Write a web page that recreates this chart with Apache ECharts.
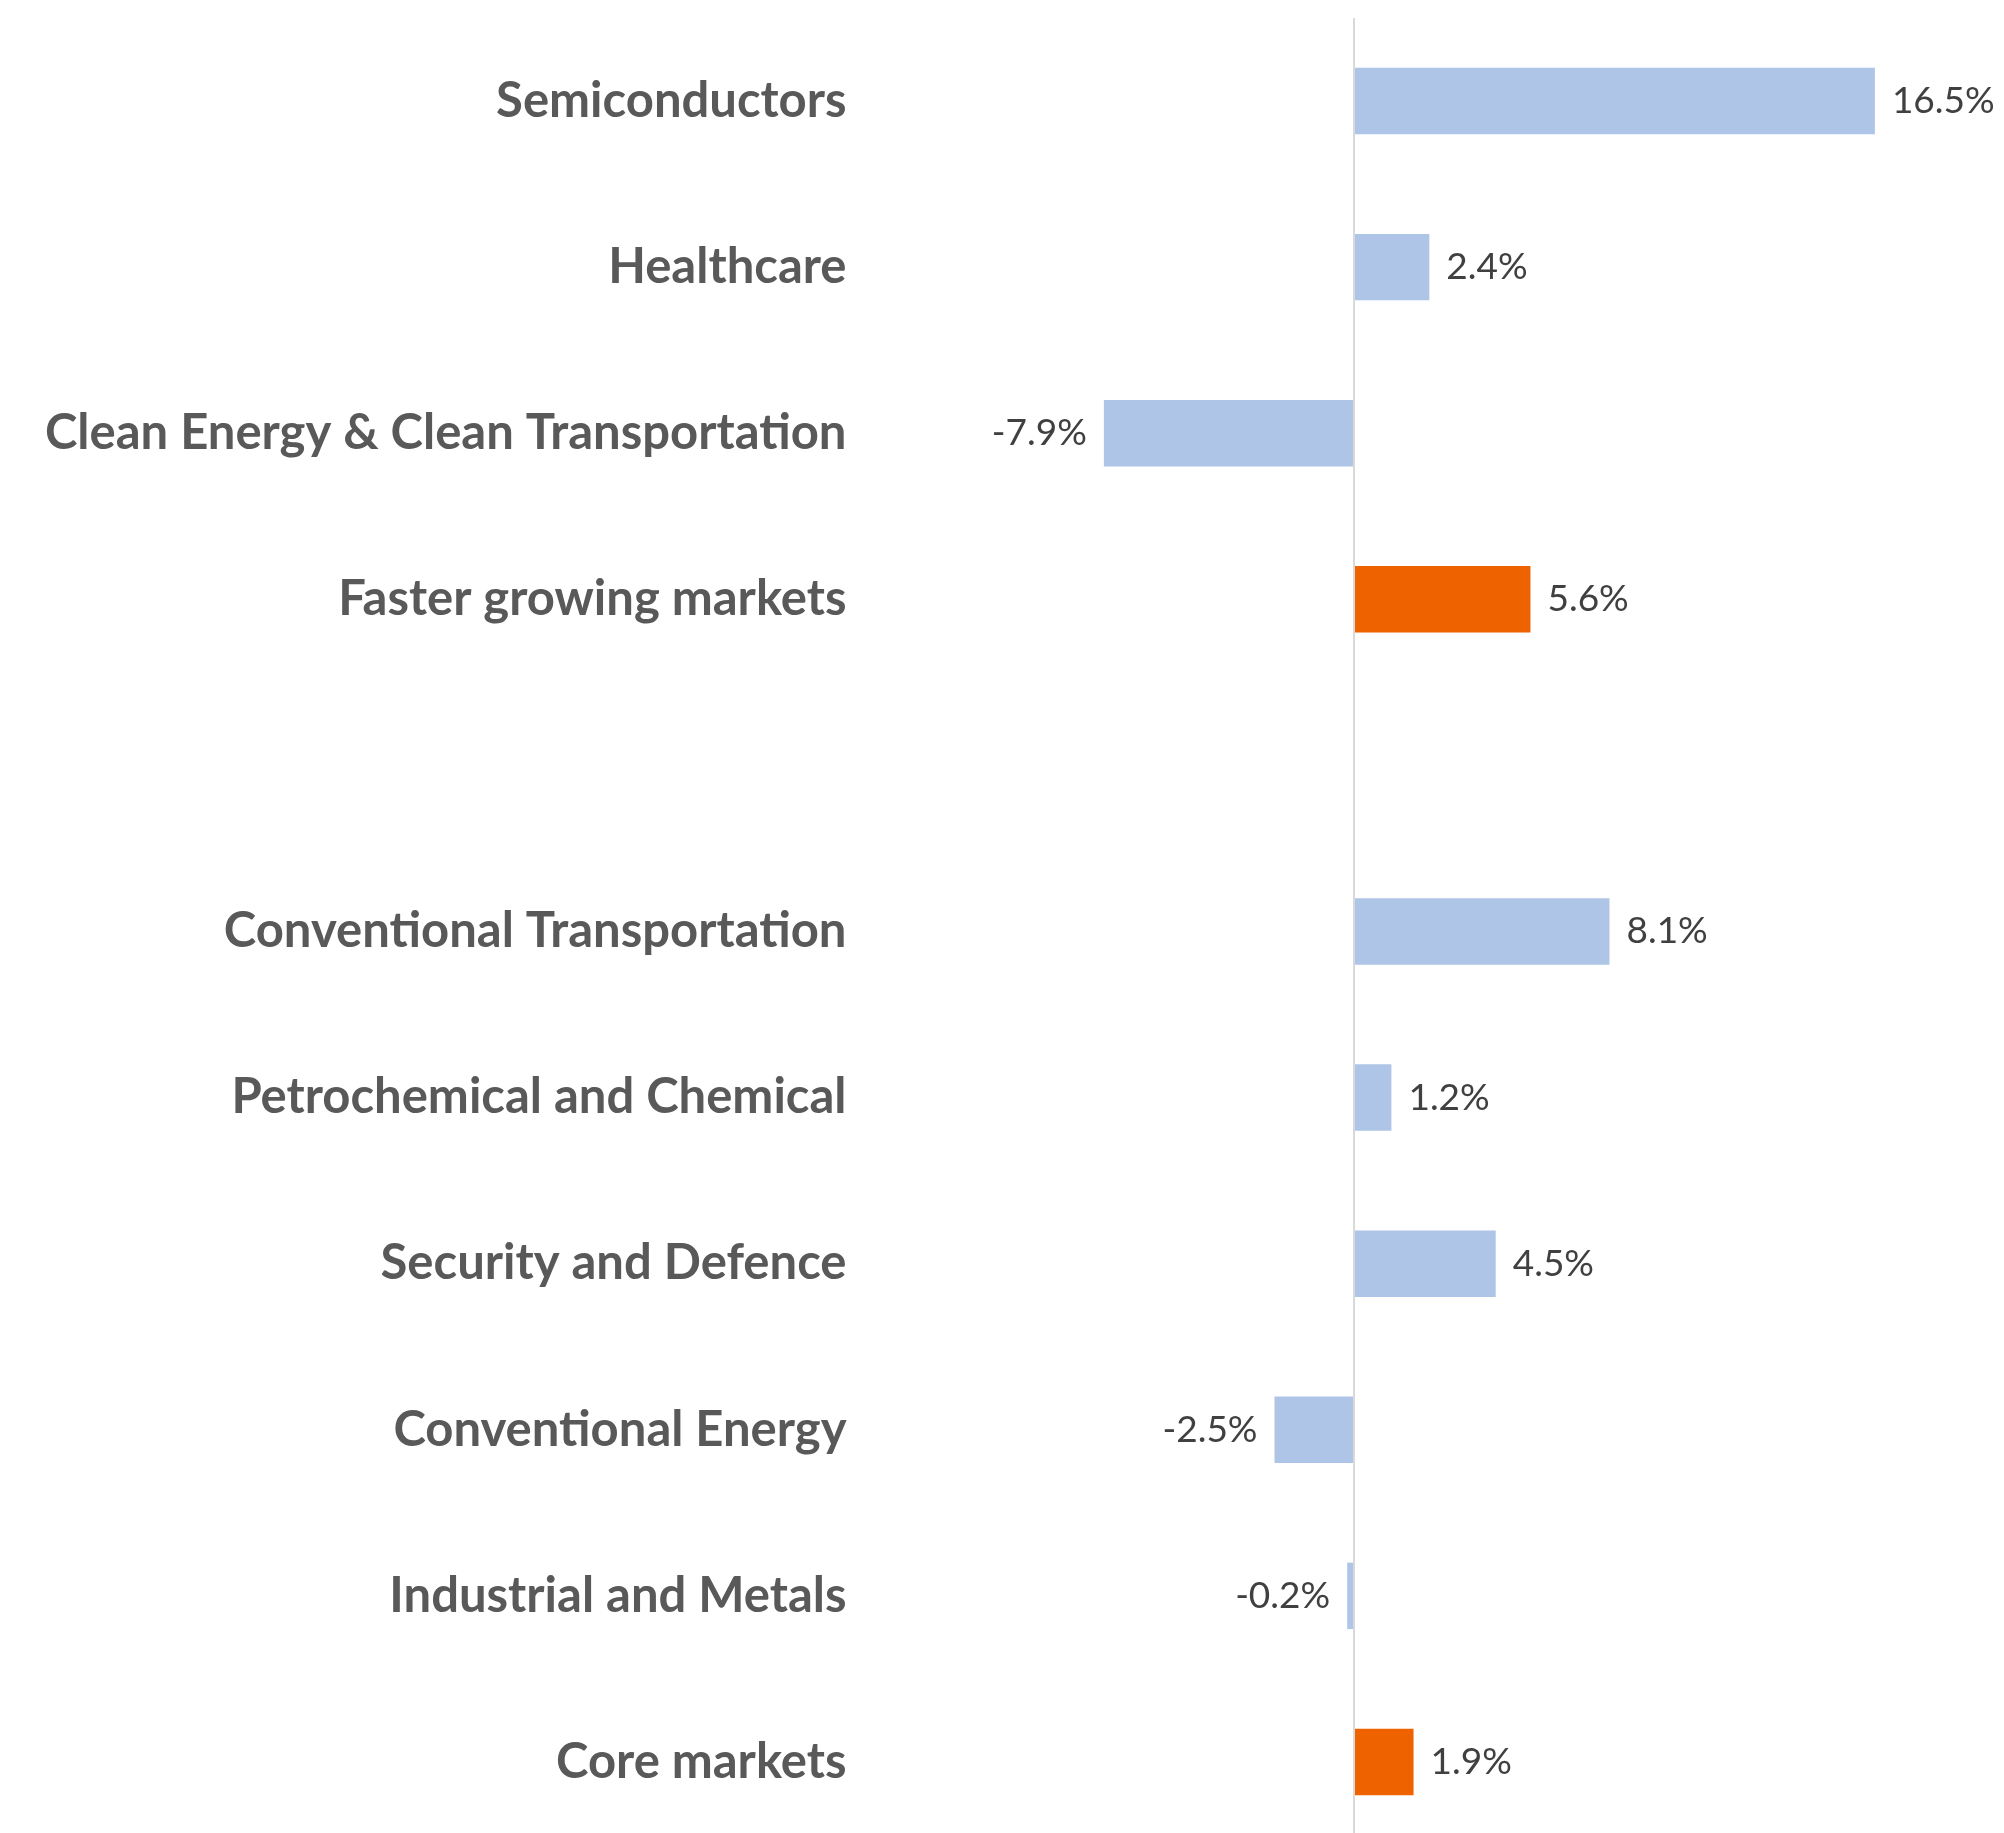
<!DOCTYPE html>
<html>
<head>
<meta charset="utf-8">
<script src="https://cdn.jsdelivr.net/npm/echarts@6/dist/echarts.min.js"></script>
<style>
  html, body { margin: 0; padding: 0; background: #fff; }
  #chart { width: 2004px; height: 1833px; }
</style>
</head>
<body>
<div id="chart"></div>
<script>
// growth by market, top to bottom (blank slot separates the two groups)
const categories = [
    'Semiconductors',
    'Healthcare',
    'Clean Energy & Clean Transportation',
    'Faster growing markets',
    '',
    'Conventional Transportation',
    'Petrochemical and Chemical',
    'Security and Defence',
    'Conventional Energy',
    'Industrial and Metals',
    'Core markets'
];
const growth = [16.5, 2.4, -7.9, 5.6, null, 8.1, 1.2, 4.5, -2.5, -0.2, 1.9];
const totals = ['Faster growing markets', 'Core markets'];

const chart = echarts.init(document.getElementById('chart'));

const barData = growth.map((v, i) => {
    if (v === null) return null;
    return {
        value: v,
        itemStyle: {color: totals.includes(categories[i]) ? '#EE6300' : '#AEC5E7'},
        label: {position: v < 0 ? 'left' : 'right'}
    };
});

chart.setOption({
    animation: false,
    grid: {
        left: 879.5,
        right: 18.5,
        top: 18,
        height: 1827,
        outerBoundsMode: 'none'
    },
    xAxis: {
        type: 'value',
        min: -15,
        max: 20,
        axisLabel: {show: false},
        axisLine: {show: false},
        axisTick: {show: false},
        splitLine: {show: false}
    },
    yAxis: {
        type: 'category',
        inverse: true,
        data: categories,
        axisLine: {show: false, onZero: false},
        axisTick: {show: false},
        axisLabel: {
            margin: 33,
            color: '#595959',
            fontFamily: 'Lato',
            fontWeight: 'bold',
            fontSize: 49
        }
    },
    series: [{
        type: 'bar',
        data: barData,
        barWidth: '40%',
        label: {
            show: true,
            distance: 17,
            color: '#404040',
            fontFamily: 'Lato',
            fontSize: 37,
            padding: [6, 0, 0, 0],
            formatter: p => p.value.toFixed(1) + '%'
        },
        markLine: {
            silent: true,
            symbol: 'none',
            label: {show: false},
            lineStyle: {color: '#D9D9D9', width: 2, type: 'solid'},
            data: [{xAxis: 0}]
        }
    }]
});
</script>
</body>
</html>
